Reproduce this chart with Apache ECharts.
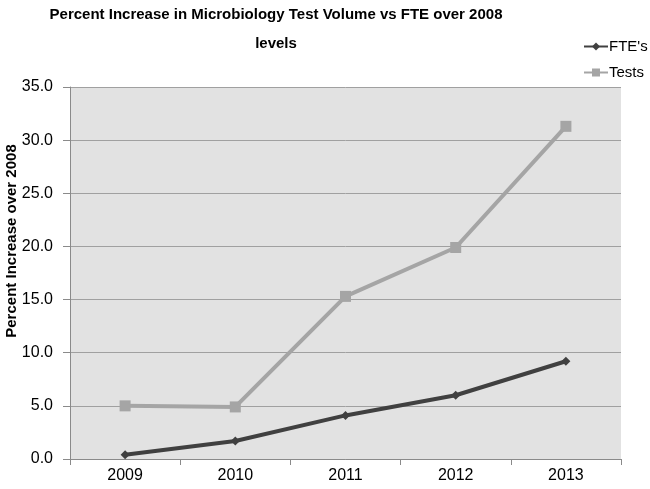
<!DOCTYPE html>
<html><head><meta charset="utf-8">
<script src="https://cdn.jsdelivr.net/npm/echarts@6/dist/echarts.min.js"></script>
<style>html,body{margin:0;padding:0;background:#fff}#c{width:650px;height:489px}</style>
</head><body><div id="c"></div>
<script>
var categories = ['2009','2010','2011','2012','2013'];
var fteValues = [0.4, 1.7, 4.1, 6.0, 9.2];
var testValues = [5.0, 4.9, 15.3, 19.9, 31.3];
var yTicks = [0,5,10,15,20,25,30,35];

var chart = echarts.init(document.getElementById('c'));
var F = 'Liberation Sans, Arial, sans-serif';
chart.setOption({
  backgroundColor: '#ffffff',
  animation: false,
  title: {
    text: 'Percent Increase in Microbiology Test Volume vs FTE over 2008\nlevels',
    left: 276, top: 0, padding: 0, textAlign: 'center',
    textStyle: {fontFamily: F, fontWeight: 'bold', fontSize: 15, color: '#000', lineHeight: 29}
  },
  legend: {
    orient: 'vertical', left: 583, top: 39, padding: 0, itemGap: 11, itemWidth: 24, itemHeight: 10,
    textStyle: {fontFamily: F, fontSize: 15, color: '#000', padding: [0,0,0,-4]},
    data: ["FTE's", 'Tests']
  },
  graphic: [{
    type: 'text', x: 4, y: 241, rotation: Math.PI/2,
    style: {text: 'Percent Increase over 2008', fontFamily: F, fontWeight: 'bold', fontSize: 15,
      fill: '#000', align: 'center', verticalAlign: 'top'}
  }],
  grid: {left: 70, top: 87, width: 551, height: 372, backgroundColor: '#e2e2e2', show: true, borderWidth: 0,
    containLabel: false, outerBoundsMode: 'none'},
  xAxis: {
    type: 'category', data: categories, boundaryGap: true,
    axisLine: {lineStyle: {color: '#8a8a8a', width: 1}},
    axisTick: {show: true, length: 6, lineStyle: {color: '#8a8a8a'}},
    axisLabel: {fontFamily: F, fontSize: 16, color: '#000', margin: 9}
  },
  yAxis: {
    type: 'value', min: 0, max: 35, interval: 5,
    axisLine: {show: true, lineStyle: {color: '#8a8a8a'}},
    axisTick: {show: true, length: 7, lineStyle: {color: '#8a8a8a'}},
    splitLine: {lineStyle: {color: '#a0a0a0', width: 1}},
    axisLabel: {fontFamily: F, fontSize: 16, color: '#000', margin: 17,
      formatter: function(v){ return v.toFixed(1); }}
  },
  series: [
    {name: "FTE's", type: 'line', data: fteValues, symbol: 'diamond', symbolSize: 9,
     lineStyle: {color: '#404040', width: 4}, itemStyle: {color: '#404040'}},
    {name: 'Tests', type: 'line', data: testValues, symbol: 'rect', symbolSize: 11,
     lineStyle: {color: '#a5a5a5', width: 4}, itemStyle: {color: '#a5a5a5'}}
  ]
});
</script></body></html>
